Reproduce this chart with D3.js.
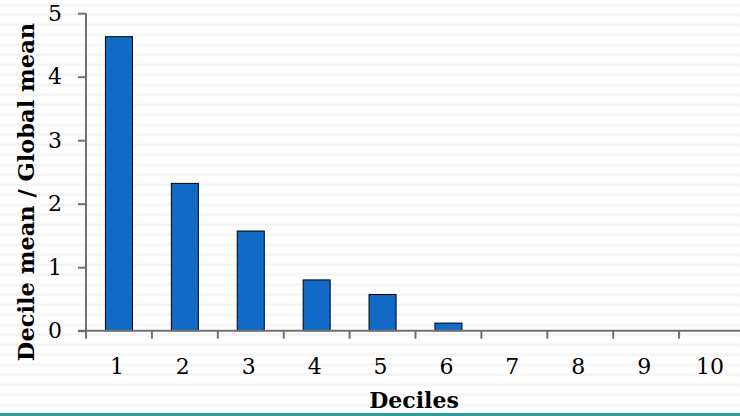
<!DOCTYPE html>
<html><head><meta charset="utf-8">
<script src="https://cdn.jsdelivr.net/npm/d3@7"></script>
<style>html,body{margin:0;padding:0;background:#fff;}svg{display:block;}</style>
</head><body>
<script>
const categories = ["1","2","3","4","5","6","7","8","9","10"];
const values = [4.63, 2.32, 1.57, 0.80, 0.57, 0.12, 0, 0, 0, 0];
const yTicks = [0, 1, 2, 3, 4, 5];
const xTitle = "Deciles";
const yTitle = "Decile mean / Global mean";

const W = 740, H = 416;
const svg = d3.select("body").append("svg").attr("width", W).attr("height", H);

// background zigzag pattern
const defs = svg.append("defs");
const pat = defs.append("pattern").attr("id","zz").attr("patternUnits","userSpaceOnUse")
  .attr("width",8).attr("height",10);
pat.append("rect").attr("width",8).attr("height",10).attr("fill","#fff");
pat.append("path").attr("d","M0,6 L2,3.5 L4,6 L6,3.5 L8,6").attr("fill","none")
  .attr("stroke","#f1f1f1").attr("stroke-width",1.2);
svg.append("rect").attr("width",W).attr("height",H).attr("fill","url(#zz)");

const x0 = 86, y0 = 330.7, yTop = 13.2;
const x = d3.scaleBand().domain(categories).range([x0, x0 + 65.9*10]).padding(0);
const y = d3.scaleLinear().domain([0,5]).range([y0, yTop]);
const axisColor = "#707070";
const font = "'DejaVu Serif', serif";

// bars
const bw = x.bandwidth()*0.41;
svg.append("g").selectAll("rect").data(values).join("rect")
  .attr("x",(d,i)=>x(categories[i]) + x.bandwidth()/2 - bw/2)
  .attr("width",bw)
  .attr("y",d=>y(d))
  .attr("height",d=>y0 - y(d))
  .attr("fill","#116AC6")
  .attr("stroke","#000").attr("stroke-width",1)
  .attr("display",d=>d>0?null:"none");

// y axis
const ya = svg.append("g").attr("transform",`translate(${x0},0)`)
  .call(d3.axisLeft(y).tickValues(yTicks).tickSize(8).tickPadding(16).tickFormat(d3.format("d")));
ya.select(".domain").attr("stroke",axisColor).attr("stroke-width",2).attr("d",`M0,${yTop}V${y0}`);
ya.selectAll(".tick line").attr("stroke",axisColor).attr("stroke-width",2);
ya.selectAll(".tick text").attr("font-family",font).attr("font-size",22).attr("fill","#000").attr("x",-24);

// x axis
const xa = svg.append("g").attr("transform",`translate(0,${y0})`);
xa.append("line").attr("x1",x0-8).attr("x2",W).attr("y1",0).attr("y2",0)
  .attr("stroke",axisColor).attr("stroke-width",2);
const edges = categories.map(c=>x(c));
xa.selectAll("line.tk").data(edges).join("line").attr("class","tk")
  .attr("x1",d=>d).attr("x2",d=>d).attr("y1",0).attr("y2",8)
  .attr("stroke",axisColor).attr("stroke-width",2);
xa.selectAll("text").data(categories).join("text")
  .attr("x",d=>x(d)+x.bandwidth()/2 - 2).attr("y",43)
  .attr("text-anchor","middle").attr("font-family",font).attr("font-size",22).attr("fill","#000")
  .text(d=>d);

// titles
svg.append("text").attr("x",414).attr("y",408).attr("text-anchor","middle")
  .attr("font-family",font).attr("font-weight","bold").attr("font-size",22).attr("fill","#000")
  .text(xTitle);
svg.append("text").attr("transform","translate(34,192) rotate(-90)").attr("text-anchor","middle")
  .attr("font-family",font).attr("font-weight","bold").attr("font-size",22.5).attr("fill","#000")
  .text(yTitle);

// teal bottom line
svg.append("rect").attr("x",0).attr("y",413).attr("width",W).attr("height",3).attr("fill","#2E9E9B");
</script>
</body></html>
